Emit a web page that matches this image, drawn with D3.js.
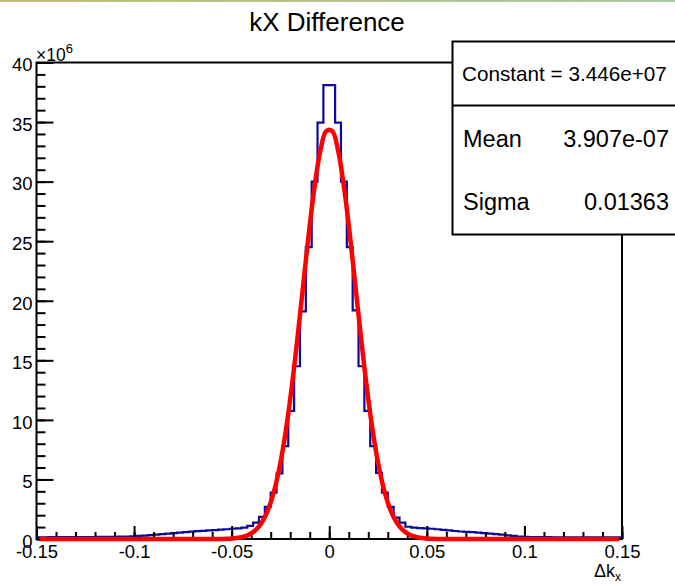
<!DOCTYPE html>
<html><head><meta charset="utf-8">
<script src="https://cdn.jsdelivr.net/npm/d3@7"></script>
<style>
body{margin:0;background:#fff}
svg{display:block}
text{font-family:"Liberation Sans",Arial,Helvetica,sans-serif;fill:#000}
</style>
</head><body>
<svg id="c" width="675" height="584"></svg>
<script>
// ---------------- data ----------------
const xRange = [-0.15, 0.15];
const yRange = [0, 40];            // in units of 10^6
const nBins = 100;
// bin contents (x 10^6), bins of width 0.003 from -0.15 to 0.15
const counts = [
  0.14,0.14,0.15,0.15,0.15,0.16,0.16,0.16,0.17,0.17,0.18,0.18,0.19,0.19,0.20,0.21,
  0.23,0.26,0.29,0.33,0.37,0.41,0.45,0.50,0.54,0.58,0.62,0.66,0.69,0.72,0.75,0.78,0.82,0.86,0.90,0.96,
  1.10,1.37,1.85,2.70,3.90,5.50,7.80,10.75,14.5,19.1,24.5,30.0,34.95,38.1,
  38.1,34.95,30.0,24.5,19.2,14.5,10.75,7.8,5.55,3.9,2.7,1.8,1.37,1.03,
  0.95,0.92,0.90,0.86,0.82,0.77,0.72,0.67,0.63,0.60,0.57,0.54,0.49,0.45,0.41,0.36,0.31,0.26,0.21,0.18,0.16,
  0.15,0.15,0.15,0.14,0.14,0.14,0.14,0.14,0.13,0.13,0.13,0.13,0.13,0.13,0.13
];
const xMajorTicks = [-0.15,-0.1,-0.05,0,0.05,0.1,0.15];
const xTickLabels = ["-0.15","-0.1","-0.05","0","0.05","0.1","0.15"];
const yMajorTicks = [0,5,10,15,20,25,30,35,40];
const yTickLabels = ["0","5","10","15","20","25","30","35","40"];
// Gaussian fit parameters
const fitConstant = 3.446e7;
const fitMean = 3.907e-7;
const fitSigma = 0.01363;
const statsNames = ["Mean","Sigma"];
const statsValues = ["3.907e-07","0.01363"];
const constantLabel = "Constant = 3.446e+07";
const titleText = "kX Difference";

// ---------------- drawing ----------------
const svg = d3.select("#c");
const x = d3.scaleLinear(xRange, [36.5, 622]);
const y = d3.scaleLinear(yRange, [539, 62.5]);
const FONT = '"Liberation Sans",Arial,Helvetica,sans-serif';

// top thin border of the canvas
const grad = svg.append("defs").append("linearGradient").attr("id","tg");
grad.append("stop").attr("offset","0%").attr("stop-color","#c4c07c");
grad.append("stop").attr("offset","100%").attr("stop-color","#a9c9a4");
svg.append("rect").attr("x",0).attr("y",0).attr("width",675).attr("height",2).attr("fill","url(#tg)");

// title
svg.append("text").attr("x",327).attr("y",31).attr("text-anchor","middle")
  .attr("font-size",26).text(titleText);

// histogram
const binW = (xRange[1]-xRange[0]) / nBins;
const pts = [];
counts.forEach((c,i) => {
  const x0 = xRange[0] + i*binW, x1 = x0 + binW;
  pts.push([x(x0), y(c)], [x(x1), y(c)]);
});
svg.append("path").attr("d", d3.line()(pts))
  .attr("fill","none").attr("stroke","#0a0a9c").attr("stroke-width",2.2);

// axes
const gx = svg.append("g").attr("transform","translate(0,539)");
gx.call(d3.axisBottom(x).tickValues(d3.range(-0.15,0.1501,0.01)).tickSizeInner(-7).tickSizeOuter(0).tickFormat(""));
gx.call(g=>g.select(".domain").remove());
const gx2 = svg.append("g").attr("transform","translate(0,539)");
gx2.call(d3.axisBottom(x).tickValues(xMajorTicks).tickSizeInner(-13).tickSizeOuter(0).tickPadding(6)
  .tickFormat((d,i)=>xTickLabels[i]));
gx2.call(g=>g.select(".domain").remove());
svg.selectAll(".tick line").attr("stroke","#000").attr("stroke-width",2);
gx2.selectAll("text").attr("font-size",18.5).attr("font-family",FONT).attr("fill","#000");

const gy = svg.append("g").attr("transform","translate(36.5,0)");
gy.call(d3.axisLeft(y).tickValues(d3.range(0,40.5,1)).tickSizeInner(-9).tickSizeOuter(0).tickFormat(""));
gy.call(g=>g.select(".domain").remove());
const gy2 = svg.append("g").attr("transform","translate(36.5,0)");
gy2.call(d3.axisLeft(y).tickValues(yMajorTicks).tickSizeInner(-17).tickSizeOuter(0).tickPadding(4)
  .tickFormat((d,i)=>yTickLabels[i]));
gy2.call(g=>g.select(".domain").remove());
svg.selectAll(".tick line").attr("stroke","#000").attr("stroke-width",2);
gy2.selectAll("text").attr("font-size",18.5).attr("font-family",FONT).attr("fill","#000").attr("dy","0.45em");

// frame
svg.append("path")
  .attr("d", `M${x(xRange[0])},${y(yRange[0])}H${x(xRange[1])}V${y(yRange[1])}H${x(xRange[0])}Z`)
  .attr("fill","none").attr("stroke","#000").attr("stroke-width",2);

// x10^6
const e = svg.append("text").attr("x",36).attr("y",61).attr("font-size",17.5);
e.append("tspan").text("\u00d710");
e.append("tspan").attr("font-size",13).attr("dy",-8).text("6");

// axis title
const at = svg.append("text").attr("x",621).attr("y",577).attr("text-anchor","end").attr("font-size",18);
at.append("tspan").text("\u0394k");
at.append("tspan").attr("font-size",12).attr("dy",4).text("x");

// fit curve
const fx = d3.range(0,101).map(i => xRange[0] + i*(xRange[1]-xRange[0])/100 + (xRange[1]-xRange[0])/200);
const fitPts = fx.filter(v => v <= xRange[1]).map(v => [x(v), y(fitConstant*Math.exp(-0.5*Math.pow((v-fitMean)/fitSigma,2))/1e6)]);
svg.append("path").attr("d", d3.line().curve(d3.curveCatmullRom)(fitPts))
  .attr("fill","none").attr("stroke","#ff0000").attr("stroke-width",4.5).attr("stroke-linejoin","round");

// stats box
const sb = svg.append("g");
sb.append("rect").attr("x",452.5).attr("y",41.5).attr("width",240).attr("height",193)
  .attr("fill","#fff").attr("stroke","#000").attr("stroke-width",2);
sb.append("line").attr("x1",452.5).attr("x2",700).attr("y1",105.5).attr("y2",105.5)
  .attr("stroke","#000").attr("stroke-width",2);
sb.append("text").attr("x",462).attr("y",81).attr("font-size",20.7).text(constantLabel);
statsNames.forEach((n,i)=>{
  const by = [147,210][i];
  sb.append("text").attr("x",463).attr("y",by).attr("font-size",23.5).text(n);
  sb.append("text").attr("x",669).attr("y",by).attr("font-size",23.5).attr("text-anchor","end").text(statsValues[i]);
});
</script>
</body></html>
